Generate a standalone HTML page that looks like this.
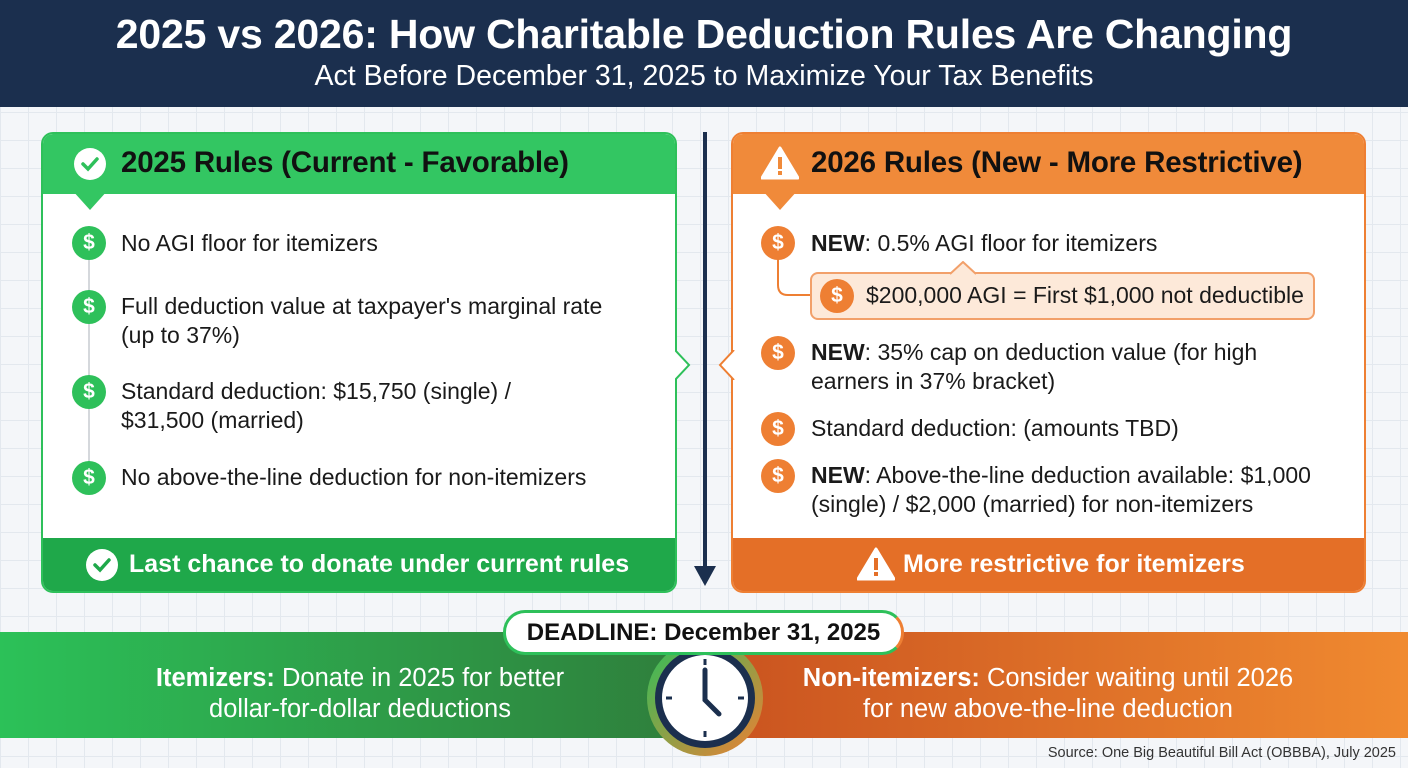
<!DOCTYPE html>
<html><head><meta charset="utf-8">
<style>
*{margin:0;padding:0;box-sizing:border-box}
body{width:1408px;height:768px;overflow:hidden;font-family:"Liberation Sans",sans-serif;position:relative;
background-color:#f4f6f9;
background-image:linear-gradient(#e3e8ee 1px,transparent 1px),linear-gradient(90deg,#e3e8ee 1px,transparent 1px);
background-size:28px 28px;}
.a{position:absolute}
.hdr{left:0;top:0;width:1408px;height:107px;background:#1b2f4e;color:#fff;text-align:center}
.hdr h1{position:absolute;top:11px;width:100%;font-size:41px;font-weight:bold;letter-spacing:-0.2px}
.hdr p{position:absolute;top:60px;width:100%;font-size:28.5px}
.card{background:#fff;border-radius:12px;overflow:hidden}
.ch{position:absolute;left:0;top:0;width:100%;height:60px;font-weight:bold;font-size:29.5px;color:#111;letter-spacing:-0.2px}
.cf{position:absolute;left:0;bottom:0;width:100%;height:53px;color:#fff;font-weight:bold;font-size:25px}
.it{position:absolute;font-size:23px;color:#1a1a1a;line-height:29px}
.ic{position:absolute;width:34px;height:34px;border-radius:50%;color:#fff;font-weight:bold;font-size:21px;text-align:center;line-height:34px}
.g{background:#2ec05a}.o{background:#ee7f33}
</style></head><body>
<div class="a hdr"><h1>2025 vs 2026: How Charitable Deduction Rules Are Changing</h1><p>Act Before December 31, 2025 to Maximize Your Tax Benefits</p></div>

<!-- left card -->
<div class="a card" style="left:41px;top:132px;width:636px;height:461px;border:2px solid #2ec05a">
 <div class="ch" style="background:#33c662"><span class="a" style="left:78px;top:12px">2025 Rules (Current - Favorable)</span>
  <svg class="a" style="left:30px;top:13px" width="34" height="34"><circle cx="17" cy="17" r="16" fill="#fff"/><path d="M10 17l5 5 9-10" stroke="#2ec05a" stroke-width="3.5" fill="none" stroke-linecap="round"/></svg></div>
 <div class="cf" style="background:#1fa84a"><span class="a" style="left:86px;top:12px">Last chance to donate under current rules</span>
  <svg class="a" style="left:42px;top:10px" width="34" height="34"><circle cx="17" cy="17" r="16" fill="#fff"/><path d="M10 17l5 5 9-10" stroke="#1fa84a" stroke-width="3.5" fill="none" stroke-linecap="round"/></svg></div>
</div>
<svg class="a" style="left:72px;top:190px" width="36" height="22"><path d="M0 0h36L18 20z" fill="#33c662"/></svg>
<div class="a" style="left:88px;top:260px;width:2px;height:220px;background:#d5d8dc"></div>
<div class="ic g" style="left:72px;top:226px">$</div><div class="it" style="left:121px;top:229px">No AGI floor for itemizers</div>
<div class="ic g" style="left:72px;top:290px">$</div><div class="it" style="left:121px;top:292px">Full deduction value at taxpayer's marginal rate<br>(up to 37%)</div>
<div class="ic g" style="left:72px;top:375px">$</div><div class="it" style="left:121px;top:377px">Standard deduction: $15,750 (single) /<br>$31,500 (married)</div>
<div class="ic g" style="left:72px;top:461px">$</div><div class="it" style="left:121px;top:463px">No above-the-line deduction for non-itemizers</div>
<svg class="a" style="left:675px;top:350px" width="20" height="30"><path d="M0 0l14 15L0 30" fill="#fff" stroke="#2ec05a" stroke-width="2"/></svg>

<!-- divider -->
<div class="a" style="left:703px;top:132px;width:4px;height:440px;background:#1b2f4e"></div>
<svg class="a" style="left:694px;top:566px" width="22" height="22"><path d="M0 0h22L11 20z" fill="#1b2f4e"/></svg>

<!-- right card -->
<div class="a card" style="left:731px;top:132px;width:635px;height:461px;border:2px solid #ee7f33">
 <div class="ch" style="background:#f08a3a"><span class="a" style="left:78px;top:12px">2026 Rules (New - More Restrictive)</span>
  <svg class="a" style="left:28px;top:12px" width="38" height="34"><path d="M19 2L37 32H1z" fill="#fff" stroke="#fff" stroke-linejoin="round" stroke-width="3"/><rect x="17" y="11" width="4" height="12" fill="#f08a3a"/><rect x="17" y="25" width="4" height="4" fill="#f08a3a"/></svg></div>
 <div class="cf" style="background:#e46f27"><span class="a" style="left:170px;top:12px">More restrictive for itemizers</span>
  <svg class="a" style="left:124px;top:9px" width="38" height="34"><path d="M19 2L37 32H1z" fill="#fff" stroke="#fff" stroke-linejoin="round" stroke-width="3"/><rect x="17" y="11" width="4" height="12" fill="#e46f27"/><rect x="17" y="25" width="4" height="4" fill="#e46f27"/></svg></div>
</div>
<svg class="a" style="left:762px;top:190px" width="36" height="22"><path d="M0 0h36L18 20z" fill="#f08a3a"/></svg>
<svg class="a" style="left:716px;top:350px" width="20" height="30"><path d="M18 0L4 15l14 15" fill="#fff" stroke="#ee7f33" stroke-width="2"/></svg>
<svg class="a" style="left:770px;top:255px" width="50" height="50"><path d="M8 0v30q0 10 10 10h32" fill="none" stroke="#ee7f33" stroke-width="2"/></svg>
<div class="a" style="left:810px;top:272px;width:505px;height:48px;background:#fde9d9;border:2px solid #f2a06a;border-radius:8px"></div>
<svg class="a" style="left:950px;top:261px" width="26" height="14"><path d="M0 13L13 1l13 12" fill="#fde9d9" stroke="#f2a06a" stroke-width="2"/></svg>
<div class="ic o" style="left:761px;top:226px">$</div><div class="it" style="left:811px;top:229px"><b>NEW</b>: 0.5% AGI floor for itemizers</div>
<div class="ic o" style="left:820px;top:279px">$</div><div class="it" style="left:866px;top:281px">$200,000 AGI = First $1,000 not deductible</div>
<div class="ic o" style="left:761px;top:336px">$</div><div class="it" style="left:811px;top:338px"><b>NEW</b>: 35% cap on deduction value (for high<br>earners in 37% bracket)</div>
<div class="ic o" style="left:761px;top:412px">$</div><div class="it" style="left:811px;top:414px">Standard deduction: (amounts TBD)</div>
<div class="ic o" style="left:761px;top:459px">$</div><div class="it" style="left:811px;top:461px"><b>NEW</b>: Above-the-line deduction available: $1,000<br>(single) / $2,000 (married) for non-itemizers</div>

<!-- bottom band -->
<div class="a" style="left:0;top:632px;width:704px;height:106px;background:linear-gradient(90deg,#2cc158,#2f7d3b)"></div>
<div class="a" style="left:704px;top:632px;width:704px;height:106px;background:linear-gradient(90deg,#c9521f,#f08a30)"></div>
<div class="a" style="left:0;top:663px;width:720px;text-align:center;color:#fff;font-size:25.5px;line-height:31px"><b>Itemizers:</b> Donate in 2025 for better<br>dollar-for-dollar deductions</div>
<div class="a" style="left:690px;top:663px;width:716px;text-align:center;color:#fff;font-size:25.5px;line-height:31px"><b>Non-itemizers:</b> Consider waiting until 2026<br>for new above-the-line deduction</div>
<svg class="a" style="left:645px;top:640px" width="120" height="120">
 <defs><linearGradient id="cg" x1="0" x2="1" y1="0" y2="1"><stop offset="0" stop-color="#2ec05a"/><stop offset="1" stop-color="#ee7f33"/></linearGradient></defs>
 <circle cx="60" cy="58" r="58" fill="url(#cg)"/><circle cx="60" cy="58" r="50" fill="#1b2f4e"/><circle cx="60" cy="58" r="43" fill="#fff"/>
 <g stroke="#1b2f4e" stroke-width="3"><line x1="60" y1="19" x2="60" y2="25"/><line x1="60" y1="91" x2="60" y2="97"/><line x1="21" y1="58" x2="27" y2="58"/><line x1="93" y1="58" x2="99" y2="58"/></g>
 <path d="M60 30V60l14 14" stroke="#1b2f4e" stroke-width="5" fill="none" stroke-linecap="round"/>
</svg>
<div class="a" style="left:503px;top:610px;width:401px;height:45px;background:#fff;border:3px solid #2ec05a;border-right-color:#ee7f33;border-radius:22px;text-align:center;font-weight:bold;font-size:24px;line-height:39px;color:#111">DEADLINE: December 31, 2025</div>
<div class="a" style="right:12px;top:745px;font-size:14.5px;color:#333">Source: One Big Beautiful Bill Act (OBBBA), July 2025</div>
</body></html>
